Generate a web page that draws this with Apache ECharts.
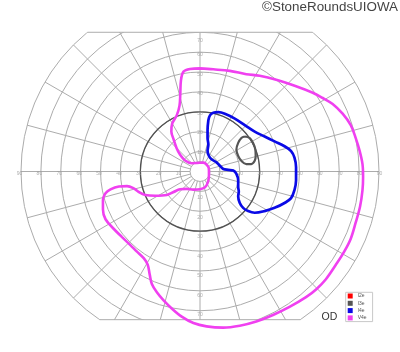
<!DOCTYPE html>
<html><head><meta charset="utf-8">
<script src="https://cdn.jsdelivr.net/npm/echarts@6/dist/echarts.min.js"></script>
<style>html,body{margin:0;padding:0;background:#fff}#c{width:400px;height:352px}</style>
</head><body><div id="c"></div>
<script>
// ---- data (degrees of visual field: [horizontal, vertical]) ----
const hTicks = [10, 20, 30, 40, 50, 60, 70, 80, 90];
const vTicks = [10, 20, 30, 40, 50, 60, 70];
const isopterNames = ['I2e', 'I3e', 'I4e', 'V4e'];
const isopterColors = ['#ff0000', '#555555', '#0a0ae6', '#f040f0'];
const I2e = [];
const I3e = [[22.5,19.9],[25,19.1],[26.7,16.6],[27.8,13.25],[28,9.9],[27.5,7.4],[25.8,5.75],[23.3,5.75],[20.8,7.4],[19.2,9.9],[18.3,13.25],[19.2,16.6],[20.8,19.1],[22.5,19.9]];
const I4e = [[4.2,28.25],[5,30.75],[6.7,32.1],[9.2,32.4],[12.5,31.6],[17.5,29.1],[22.5,25.75],[27.5,22.4],[32.5,19.9],[37.5,17.4],[42.5,14.9],[45.8,12.4],[47.5,9.1],[48.3,4.1],[48.3,-2.6],[47.5,-7.6],[45.8,-11.75],[42.5,-14.25],[37.5,-16.75],[32.5,-18.4],[27.5,-19.25],[24.2,-18.4],[21.7,-16.75],[20,-14.25],[19.2,-10.9],[19.5,-8.4],[19.2,-5.9],[19.2,-2.6],[18.3,0.75],[16.7,2.4],[14.2,2.75],[11.7,3.25],[10,4.9],[8.3,6.6],[5.8,8.25],[4.5,9.9],[3.8,12.4],[4.2,15.75],[3.8,19.1],[3.8,23.25],[4.2,28.25]];
const V4e = [[0,54.9],[6.7,54.4],[15,53.6],[23.3,51.9],[30,51.1],[38.3,49.1],[48.3,45.75],[56.7,42.4],[61.5,39.8],[66.7,36.6],[71.7,31.6],[75.8,25.75],[78.3,19.1],[80.3,12.4],[81.7,5.75],[82,-0.9],[81.7,-7.6],[80.5,-15.9],[78.3,-24.25],[75.8,-32.6],[72.5,-39.25],[68.3,-46],[63.3,-53.4],[58.5,-58.5],[53.3,-62.6],[45,-67.6],[36.7,-71.75],[28.3,-75.1],[20,-77.25],[11.7,-78.25],[3.3,-77.6],[-3.3,-75.9],[-9.2,-72.6],[-14.2,-68.4],[-18.3,-64.25],[-21.7,-60.1],[-24.2,-55.9],[-25.3,-50.9],[-26.3,-45.9],[-28.3,-42.6],[-31.7,-39.25],[-35,-35.9],[-39.2,-31.75],[-43.3,-27.6],[-47.5,-22.6],[-48.8,-17.6],[-48.8,-12.6],[-47.5,-9.25],[-45,-7.25],[-40.8,-5.8],[-36.7,-5.6],[-33.3,-6.75],[-30.8,-8.6],[-27.5,-10.1],[-22.5,-10.5],[-16.7,-10.1],[-13.3,-8.6],[-10,-7.2],[-6.7,-7.0],[-3.3,-7.4],[0,-7.2],[2.5,-6.2],[4,-3.5],[4.5,0],[4.5,2.5],[4,4.6],[1.7,6.5],[-1.5,6.3],[-4.2,6.2],[-7.5,7.6],[-10,10.5],[-11.8,14],[-13.3,18.5],[-14.4,22.5],[-14,26.5],[-11.7,30.75],[-10.3,35.75],[-9.9,42],[-9.6,48.5],[-8.3,53.2],[-5,54.6],[0,54.9]];
const isopterData = [I2e, I3e, I4e, V4e];
const isopterWidths = [2, 2.2, 2.7, 2.6];

// ---- layout ----
const CX = 200, CY = 171.5, R = 179, MAXDEG = 90;
const S = R / MAXDEG;
const TOP_CLIP = 70, BOTTOM_CLIP = 74.5;
const GRID = '#acacac';
const LABEL_FONT = 'Liberation Sans, Arial, sans-serif';

const chart = echarts.init(document.getElementById('c'), null, {renderer: 'canvas'});

const hidden = {show: false};
function angleAx(idx, extra) {
  return Object.assign({polarIndex: idx, type: 'value', min: 0, max: 360, interval: 15, startAngle: 0,
    clockwise: false, z: 0, axisTick: hidden, axisLabel: hidden, axisLine: hidden, splitLine: hidden, splitArea: hidden}, extra);
}
function radiusAx(idx, min, max, extra) {
  return Object.assign({polarIndex: idx, type: 'value', min: min, max: max, z: 0,
    axisTick: hidden, axisLabel: hidden, axisLine: hidden, splitLine: hidden, splitArea: hidden}, extra);
}

function tickSeries(points, offsetFn) {
  return {
    type: 'scatter', silent: true, z: 2, symbolSize: 1,
    itemStyle: {color: 'rgba(0,0,0,0)'},
    data: points.map(p => ({value: [p[0], p[1]], label: {offset: offsetFn(p)}})),
    label: {show: true, position: 'inside', fontSize: 5, color: '#999', fontFamily: LABEL_FONT,
      formatter: p => String(Math.abs(p.value[0] || p.value[1]))}
  };
}

function clipHalf(d) { return Math.sqrt(R * R - d * d); }
const topD = TOP_CLIP * S, botD = BOTTOM_CLIP * S;

const option = {
  animation: false,
  backgroundColor: '#fff',
  title: [{text: '©StoneRoundsUIOWA', right: 2, top: 1, padding: 0, z: 10,
    textStyle: {fontSize: 13.4, fontWeight: 'normal', color: '#444', fontFamily: LABEL_FONT}}],
  legend: {
    data: isopterNames, orient: 'vertical', left: 345.7, top: 292.3, z: 10,
    itemWidth: 5, itemHeight: 5, itemGap: 2.3, icon: 'rect', selectedMode: false,
    padding: [1.2, 6, 1.2, 2], borderColor: '#c8c8c8', borderWidth: 1, backgroundColor: '#fff',
    textStyle: {fontSize: 5, color: '#555', fontFamily: LABEL_FONT}
  },
  polar: [
    {center: [CX, CY], radius: [5 * S, R]},
    {center: [CX, CY], radius: [0, R]},
    {center: [CX, CY], radius: [0, 5 * S]},
    {center: [CX, CY], radius: [0, 30 * S]}
  ],
  angleAxis: [
    angleAx(0, {splitLine: {show: true, lineStyle: {color: GRID, width: 1}}}),
    angleAx(1, {}),
    angleAx(2, {axisLine: {show: true, lineStyle: {color: GRID, width: 1}}}),
    angleAx(3, {axisLine: {show: true, lineStyle: {color: '#505050', width: 1.3}}})
  ],
  radiusAxis: [
    radiusAx(0, 5, MAXDEG, {}),
    radiusAx(1, 0, MAXDEG, {interval: 10, splitLine: {show: true, lineStyle: {color: GRID, width: 1}}}),
    radiusAx(2, 0, 5, {}),
    radiusAx(3, 0, 30, {})
  ],
  grid: {left: CX - R, top: CY - R, width: 2 * R, height: 2 * R, containLabel: false},
  xAxis: {type: 'value', min: -MAXDEG, max: MAXDEG, show: false},
  yAxis: {type: 'value', min: -MAXDEG, max: MAXDEG, show: false},
  graphic: {
    elements: [
      {type: 'rect', z: 1, silent: true, shape: {x: 0, y: 0, width: 400, height: CY - topD}, style: {fill: '#fff'}},
      {type: 'rect', z: 1, silent: true, shape: {x: 0, y: CY + botD, width: 400, height: 400}, style: {fill: '#fff'}},
      {type: 'line', z: 1, silent: true, shape: {x1: CX - clipHalf(topD), y1: CY - topD, x2: CX + clipHalf(topD), y2: CY - topD}, style: {stroke: GRID, lineWidth: 1}},
      {type: 'line', z: 1, silent: true, shape: {x1: CX - clipHalf(botD), y1: CY + botD, x2: CX + clipHalf(botD), y2: CY + botD}, style: {stroke: GRID, lineWidth: 1}},
      {type: 'text', z: 10, silent: true, x: 321.5, y: 316.8, style: {text: 'OD', fontSize: 10.5, fill: '#333', fontFamily: LABEL_FONT, verticalAlign: 'middle'}}
    ]
  },
  series: [
    tickSeries(hTicks.map(v => [-v, 0]), () => [-1.5, -2]),
    tickSeries(hTicks.map(v => [v, 0]), () => [0.5, -2]),
    tickSeries(vTicks.map(v => [0, v]), p => p[1] >= TOP_CLIP ? [0, 2] : [0, -3.4]),
    tickSeries(vTicks.map(v => [0, -v]), () => [0, 3.3])
  ].concat(isopterNames.map((name, i) => ({
    name: name, type: 'line', silent: true, z: 5, smooth: 0.35, symbol: 'none',
    data: isopterData[i],
    itemStyle: {color: isopterColors[i]},
    lineStyle: {color: isopterColors[i], width: isopterWidths[i]}
  })))
};
chart.setOption(option);
</script></body></html>
